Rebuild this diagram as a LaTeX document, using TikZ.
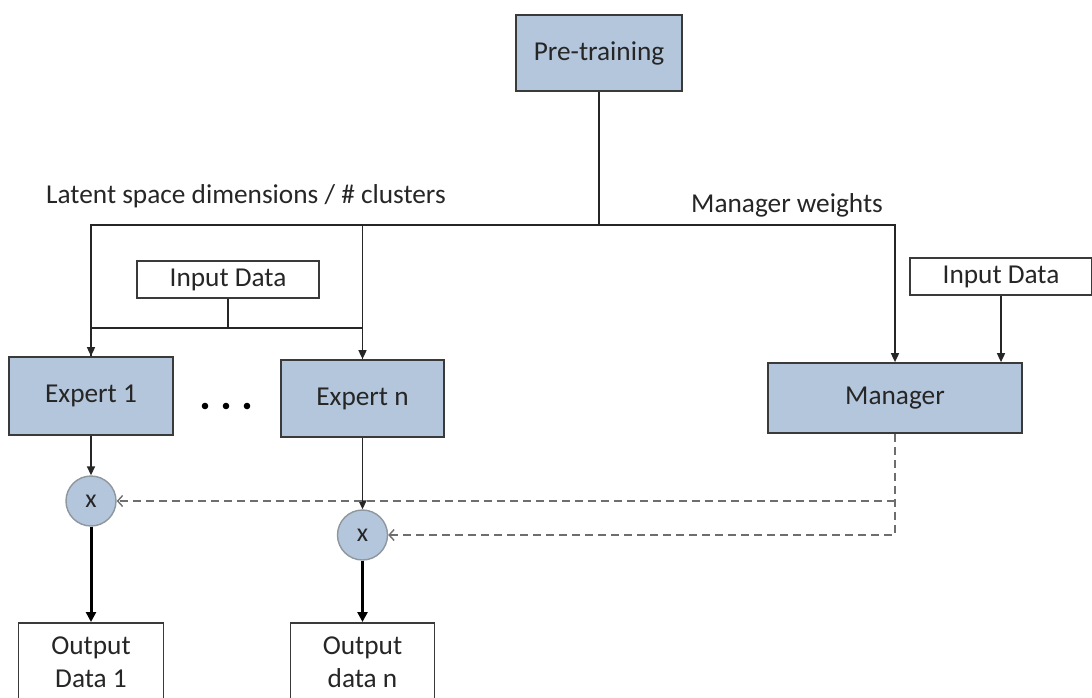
\documentclass[tikz,border=0pt]{standalone}
\usepackage{fontspec}
\setmainfont{Carlito}
\usetikzlibrary{arrows.meta}
\definecolor{boxblue}{HTML}{B4C6DC}
\definecolor{boxline}{HTML}{3A3A3A}
\definecolor{txt}{HTML}{262626}
\definecolor{dashgray}{HTML}{6E6E6E}
\definecolor{ringgray}{HTML}{8E969E}
\tikzset{
  every node/.style={font=\fontsize{27.3}{33}\selectfont, text=txt},
  bluebox/.style={draw=boxline, line width=1.7pt, fill=boxblue, inner sep=0pt},
  whitebox/.style={draw=boxline, line width=1.5pt, fill=white, inner sep=0pt},
  mult/.style={circle, draw=ringgray, line width=1.4pt, fill=boxblue, minimum size=50pt, inner sep=0pt, font=\fontsize{26}{28}\selectfont},
  wire/.style={draw=black!85, line width=1.6pt},
  feed/.style={wire, -{Triangle[length=9pt,width=8pt]}},
  heavy/.style={draw=black, line width=3pt, -{Triangle[length=10pt,width=10pt]}},
  gate/.style={draw=dashgray, line width=2.3pt, dash pattern=on 8pt off 5pt,
               -{Straight Barb[length=5pt,width=11pt,line width=1.4pt]}},
}
\begin{document}
\begin{tikzpicture}[x=1pt,y=-1pt]
\useasboundingbox (0,0) rectangle (1092,697);

% processing blocks
\node[bluebox, minimum width=166pt, minimum height=76pt] (pre) at (599,53) {Pre-training};
\node[whitebox, minimum width=182pt, minimum height=37pt] (in1) at (228,279.5) {Input Data};
\node[whitebox, minimum width=182pt, minimum height=37pt] (in2) at (1001,276.5) {Input Data};
\node[bluebox, minimum width=164pt, minimum height=78pt] (e1) at (91,396) {Expert 1};
\node[bluebox, minimum width=163pt, minimum height=77pt] (en) at (362.5,398.5) {Expert n};
\node[bluebox, minimum width=254pt, minimum height=70pt] (mgr) at (895,398) {Manager};

% gating multipliers
\node[mult] (c1) at (91,501) {x};
\node[mult] (cn) at (362.5,535) {x};

% outputs (running off the lower edge)
\node[whitebox, anchor=north, minimum width=145pt, minimum height=78pt, align=center] (o1) at (91,622) {Output\\Data 1};
\node[whitebox, anchor=north, minimum width=144pt, minimum height=78pt, align=center] (o2) at (362.5,622) {Output\\data n};

% annotations
\node[anchor=base west, inner sep=0pt] (lblatent) at (46,203) {Latent space dimensions / \# clusters};
\node[anchor=base west, inner sep=0pt] (lblweights) at (691,212) {Manager weights};
\fill[black] (205,406) circle (3.3pt) (226,406) circle (3.3pt) (247,406) circle (3.3pt);

% pre-training distribution bus
\coordinate (bus) at (599,225);
\draw[wire] (pre.south) -- (bus);
\draw[feed] (bus) -| (e1.north);
\draw[feed] (bus) -| (en.north);
\draw[feed] (bus) -| (mgr.north);

% shared input to the experts
\coordinate (inj) at (228,328);
\draw[wire] (in1.south) -- (inj);
\draw[wire] (inj) -| (e1.north);
\draw[wire] (inj) -| (en.north);

% manager input
\draw[feed] (in2.south) -- (in2.south |- mgr.north);

% expert outputs through the multipliers
\draw[feed] (e1.south) -- (c1.north);
\draw[feed] (en.south) -- (cn.north);
\draw[heavy] (c1.south) -- (o1.north);
\draw[heavy] (cn.south) -- (o2.north);

% gating signals from the manager
\coordinate (gj) at (mgr.south |- c1.east);
\draw[gate] (mgr.south) |- (cn.east);
\draw[gate] (gj) -- (c1.east);
\end{tikzpicture}
\end{document}
